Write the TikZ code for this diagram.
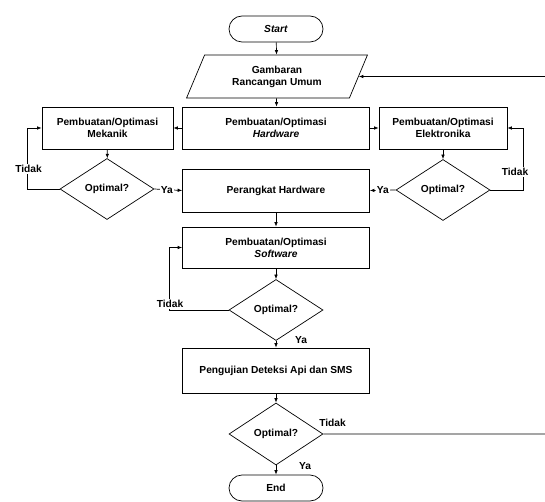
\documentclass[tikz,border=0pt]{standalone}
\usepackage{fontspec}
\setmainfont{Liberation Sans}
\usetikzlibrary{shapes.geometric,arrows.meta,positioning}

\begin{document}
\begin{tikzpicture}[x=1pt,y=-1pt,font=\fontsize{10.2}{12}\selectfont\bfseries,line width=.7pt]
\tikzset{proses/.style={draw,align=center,minimum width=187pt,minimum height=42pt,inner sep=1pt},
	terminal/.style={draw,rounded corners=13pt,minimum width=94pt,minimum height=26pt},
	putusan/.style={draw,diamond,aspect=1.54,minimum width=94pt,minimum height=61pt,inner sep=0pt},
	masukan/.style={draw,trapezium,trapezium left angle=67,trapezium right angle=113,
		trapezium stretches=true,minimum width=181pt,minimum height=43pt,align=center},
	panah/.style={-{Latex[length=4.5pt,width=3.5pt]}},
	lbl/.style={fill=white,inner sep=1pt}}
\useasboundingbox (0,0) rectangle (545,502);

\node[terminal] (start) at (276,29) {\textit{Start}};
\node[masukan] (gambar) at (277,76.5) {Gambaran\\Rancangan Umum};
\node[proses] (hw) at (276,128) {Pembuatan/Optimasi\\\textit{Hardware}};
\node[proses,minimum width=131pt] (mek) at (107.5,128) {Pembuatan/Optimasi\\Mekanik};
\node[proses,minimum width=128pt] (elk) at (443,128) {Pembuatan/Optimasi\\Elektronika};
\node[putusan] (d1) at (107,189) {Optimal?};
\node[putusan] (d2) at (443,190) {Optimal?};
\node[proses,minimum height=43pt] (alat) at (276,190.5) {Perangkat Hardware};
\node[proses,minimum height=41pt] (sw) at (276,247.5) {Pembuatan/Optimasi\\\textit{Software}};
\node[putusan] (d3) at (276,310) {Optimal?};
\node[proses,minimum height=45pt] (uji) at (276,370.5) {Pengujian Deteksi Api dan SMS};
\node[putusan,minimum height=62pt] (d4) at (276,434) {Optimal?};
\node[terminal] (end) at (276,488) {End};

\coordinate (k1) at (27,128);
\coordinate (k2) at (523,128);
\coordinate (k3) at (169,247.5);
\coordinate (k4) at (560,76.5);

\draw[panah] (start) -- (gambar);
\draw[panah] (gambar) -- (hw);
\draw[panah] (hw) -- (mek);
\draw[panah] (hw) -- (elk);
\draw[panah] (mek) -- (d1);
\draw[panah] (elk) -- (d2);
\draw[panah] (d1.west) -| (k1) -- (mek.west);
\draw[panah] (d2.east) -| (k2) -- (elk.east);
\draw[panah] (d1.east) -- node[lbl,pos=.45]{Ya} (alat.west);
\draw[panah] (d2.west) -- node[lbl,pos=.5]{Ya} (alat.east);
\draw[panah] (alat) -- (sw);
\draw[panah] (sw) -- (d3);
\draw[panah] (d3.west) -| (k3) -- (sw.west);
\draw[panah] (d3) -- (uji);
\draw[panah] (uji) -- (d4);
\draw[panah] (d4.east) -| (k4) -- (gambar.east);
\draw[panah] (d4) -- (end);

\node[lbl] at (28.5,169) {Tidak};
\node[lbl] at (515,172) {Tidak};
\node[lbl] at (170,304) {Tidak};
\node at (332.5,423) {Tidak};
\node at (301,340) {Ya};
\node at (305,466) {Ya};
\end{tikzpicture}
\end{document}
